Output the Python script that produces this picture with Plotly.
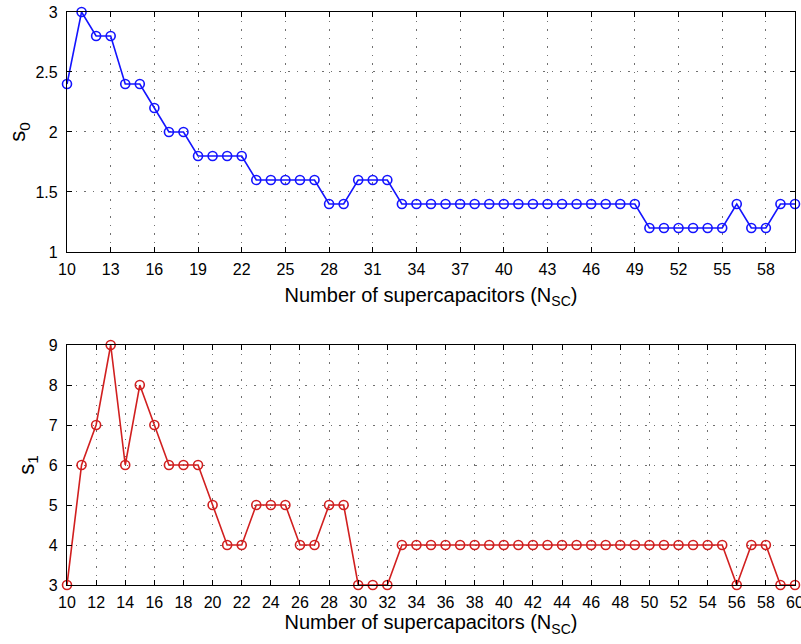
import plotly.graph_objects as go
from plotly.subplots import make_subplots

n_sc = list(range(10, 61))
s0 = [2.4, 3.0, 2.8, 2.8, 2.4, 2.4, 2.2, 2.0, 2.0, 1.8,
      1.8, 1.8, 1.8, 1.6, 1.6, 1.6, 1.6, 1.6, 1.4, 1.4,
      1.6, 1.6, 1.6, 1.4, 1.4, 1.4, 1.4, 1.4, 1.4, 1.4,
      1.4, 1.4, 1.4, 1.4, 1.4, 1.4, 1.4, 1.4, 1.4, 1.4,
      1.2, 1.2, 1.2, 1.2, 1.2, 1.2, 1.4, 1.2, 1.2, 1.4, 1.4]
s1 = [3, 6, 7, 9, 6, 8, 7, 6, 6, 6,
      5, 4, 4, 5, 5, 5, 4, 4, 5, 5,
      3, 3, 3, 4, 4, 4, 4, 4, 4, 4,
      4, 4, 4, 4, 4, 4, 4, 4, 4, 4,
      4, 4, 4, 4, 4, 4, 3, 4, 4, 3, 3]
top_xticks = list(range(10, 59, 3))
bot_xticks = list(range(10, 61, 2))
top_yticks = [1, 1.5, 2, 2.5, 3]
bot_yticks = [3, 4, 5, 6, 7, 8, 9]
xlabel = "Number of supercapacitors (N<sub>SC</sub>)"

FONT = "Liberation Sans, Arial"
BLUE = "#1414ff"
RED = "#d11f1f"

fig = make_subplots(rows=2, cols=1, vertical_spacing=0.0)

fig.add_trace(go.Scatter(x=n_sc, y=s0, mode="lines+markers",
                         line=dict(color=BLUE, width=1.6),
                         marker=dict(symbol="circle-open", size=9, color=BLUE,
                                     line=dict(width=1.6, color=BLUE)),
                         cliponaxis=False, showlegend=False), row=1, col=1)
fig.add_trace(go.Scatter(x=n_sc, y=s1, mode="lines+markers",
                         line=dict(color=RED, width=1.6),
                         marker=dict(symbol="circle-open", size=9, color=RED,
                                     line=dict(width=1.6, color=RED)),
                         cliponaxis=False, showlegend=False), row=2, col=1)

axis_common = dict(showline=True, linecolor="black", linewidth=1.3, mirror="ticks",
                   ticks="inside", ticklen=5, tickcolor="black", tickwidth=1,
                   showgrid=True, gridcolor="#707070", griddash="1.5px,7px", gridwidth=1,
                   zeroline=False, ticklabeloverflow="allow", automargin=False,
                   tickfont=dict(family=FONT, size=16, color="black"))

fig.update_xaxes(axis_common)
fig.update_yaxes(axis_common)
fig.update_xaxes(ticklabelstandoff=3)
fig.update_yaxes(ticklabelstandoff=5)

fig.update_xaxes(range=[10, 60], tickvals=top_xticks, domain=[0, 1],
                 title=dict(text=xlabel, font=dict(family=FONT, size=20, color="black"),
                            standoff=10), row=1, col=1)
fig.update_xaxes(range=[10, 60], tickvals=bot_xticks, domain=[0, 1],
                 title=dict(text=xlabel, font=dict(family=FONT, size=20, color="black"),
                            standoff=4), row=2, col=1)
fig.update_yaxes(range=[1, 3], tickvals=top_yticks, domain=[0.5812, 1.0],
                 title=dict(text="s<sub>0</sub>", font=dict(family=FONT, size=22, color="black"),
                            standoff=3), row=1, col=1)
fig.update_yaxes(range=[3, 9], tickvals=bot_yticks, domain=[0.0, 0.4188],
                 title=dict(text="s<sub>1</sub>", font=dict(family=FONT, size=22, color="black"),
                            standoff=8), row=2, col=1)

fig.update_layout(width=801, height=644, margin=dict(l=67, r=6, t=12, b=59),
                  plot_bgcolor="white", paper_bgcolor="white",
                  font=dict(family=FONT, color="black"))

fig.write_html("out.html")
